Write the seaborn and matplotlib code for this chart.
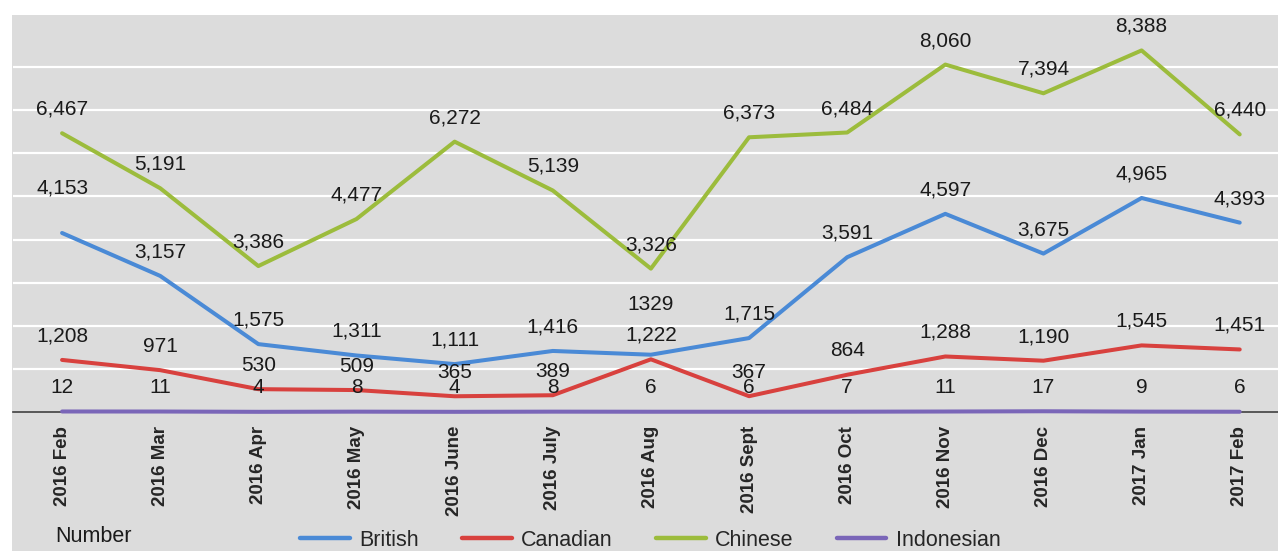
import pandas as pd
import matplotlib.pyplot as plt
import matplotlib.patches as mpatches
from matplotlib.lines import Line2D
import seaborn as sns

# Chart data
months = ['2016 Feb', '2016 Mar', '2016 Apr', '2016 May', '2016 June', '2016 July',
          '2016 Aug', '2016 Sept', '2016 Oct', '2016 Nov', '2016 Dec', '2017 Jan', '2017 Feb']
british = [4153, 3157, 1575, 1311, 1111, 1416, 1329, 1715, 3591, 4597, 3675, 4965, 4393]
canadian = [1208, 971, 530, 509, 365, 389, 1222, 367, 864, 1288, 1190, 1545, 1451]
chinese = [6467, 5191, 3386, 4477, 6272, 5139, 3326, 6373, 6484, 8060, 7394, 8388, 6440]
indonesian = [12, 11, 4, 8, 4, 8, 6, 6, 7, 11, 17, 9, 6]
series_names = ['British', 'Canadian', 'Chinese', 'Indonesian']

colors = {'British': '#4a8ad6', 'Canadian': '#d8413e',
          'Chinese': '#9cbc3c', 'Indonesian': '#7a66b8'}
BG = '#dcdcdc'

# label tweaks seen in the original
label_text_override = {('British', 6): '1329'}
label_raise = {('British', 0): 45, ('British', 6): 50}


def build_frame():
    rows = []
    for name, vals in zip(series_names, [british, canadian, chinese, indonesian]):
        for i, (m, v) in enumerate(zip(months, vals)):
            rows.append({'idx': i, 'month': m, 'series': name, 'value': v})
    return pd.DataFrame(rows)


def main():
    df = build_frame()
    sns.set_style('white')
    plt.rcParams['font.family'] = ['Liberation Sans', 'DejaVu Sans']

    fig = plt.figure(figsize=(12.78, 5.51), dpi=100)
    fig.patch.set_facecolor('white')
    bg = mpatches.Rectangle((12 / 1278, 0), 1, 536 / 551, transform=fig.transFigure,
                            facecolor=BG, edgecolor='none', zorder=-10)
    fig.add_artist(bg)
    ax = fig.add_axes([13 / 1278, 139 / 551, 1 - 13 / 1278, (536 - 139) / 551])
    ax.set_facecolor(BG)

    sns.lineplot(data=df, x='idx', y='value', hue='series', palette=colors,
                 linewidth=2.9, legend=False, ax=ax, zorder=3)
    for ln in ax.lines:
        ln.set_clip_on(False)

    ax.set_xlim(-0.5, 12.39)
    ax.set_ylim(0, 9210)
    ax.set_yticks(range(1000, 8001, 1000))
    ax.yaxis.grid(True, color='white', linewidth=1.6)
    ax.set_axisbelow(True)
    ax.tick_params(axis='y', left=False, labelleft=False)

    for side in ['top', 'right', 'left']:
        ax.spines[side].set_visible(False)
    ax.spines['bottom'].set_color('#404040')
    ax.spines['bottom'].set_linewidth(1.2)
    ax.spines['bottom'].set_zorder(2)

    ax.set_xticks(range(len(months)))
    ax.set_xticklabels(months, rotation=90, fontsize=13.5, fontweight='bold')
    ax.set_xticks([i + 0.5 for i in range(len(months) - 1)], minor=True)
    ax.tick_params(axis='x', which='major', length=0, pad=10)
    ax.tick_params(axis='x', which='minor', length=5, width=1.2, color='#404040',
                   direction='out')
    ax.set_xlabel('')
    ax.set_ylabel('')

    # value labels
    for name in series_names:
        sub = df[df['series'] == name]
        for _, r in sub.iterrows():
            text = label_text_override.get((name, r['idx']), f"{r['value']:,}")
            raise_px = label_raise.get((name, r['idx']), 24)
            ax.annotate(text, (r['idx'], r['value']),
                        xytext=(0, raise_px * 72 / 100), textcoords='offset points',
                        ha='center', va='center', fontsize=15, color='#1a1a1a',
                        zorder=5)

    fig.text(55 / 1278, 14 / 551, 'Number', fontsize=15.5, va='center', ha='left',
             color='#1a1a1a')
    handles = [Line2D([0], [0], color=colors[n], linewidth=3.2) for n in series_names]
    fig.legend(handles, series_names, loc='center', bbox_to_anchor=(0.509, 11 / 551),
               ncol=4, frameon=False, fontsize=15.5, handlelength=2.3,
               columnspacing=2.0, handletextpad=0.45)

    fig.savefig('out.png', dpi=100, facecolor=fig.get_facecolor())
    plt.close(fig)


if __name__ == '__main__':
    main()
